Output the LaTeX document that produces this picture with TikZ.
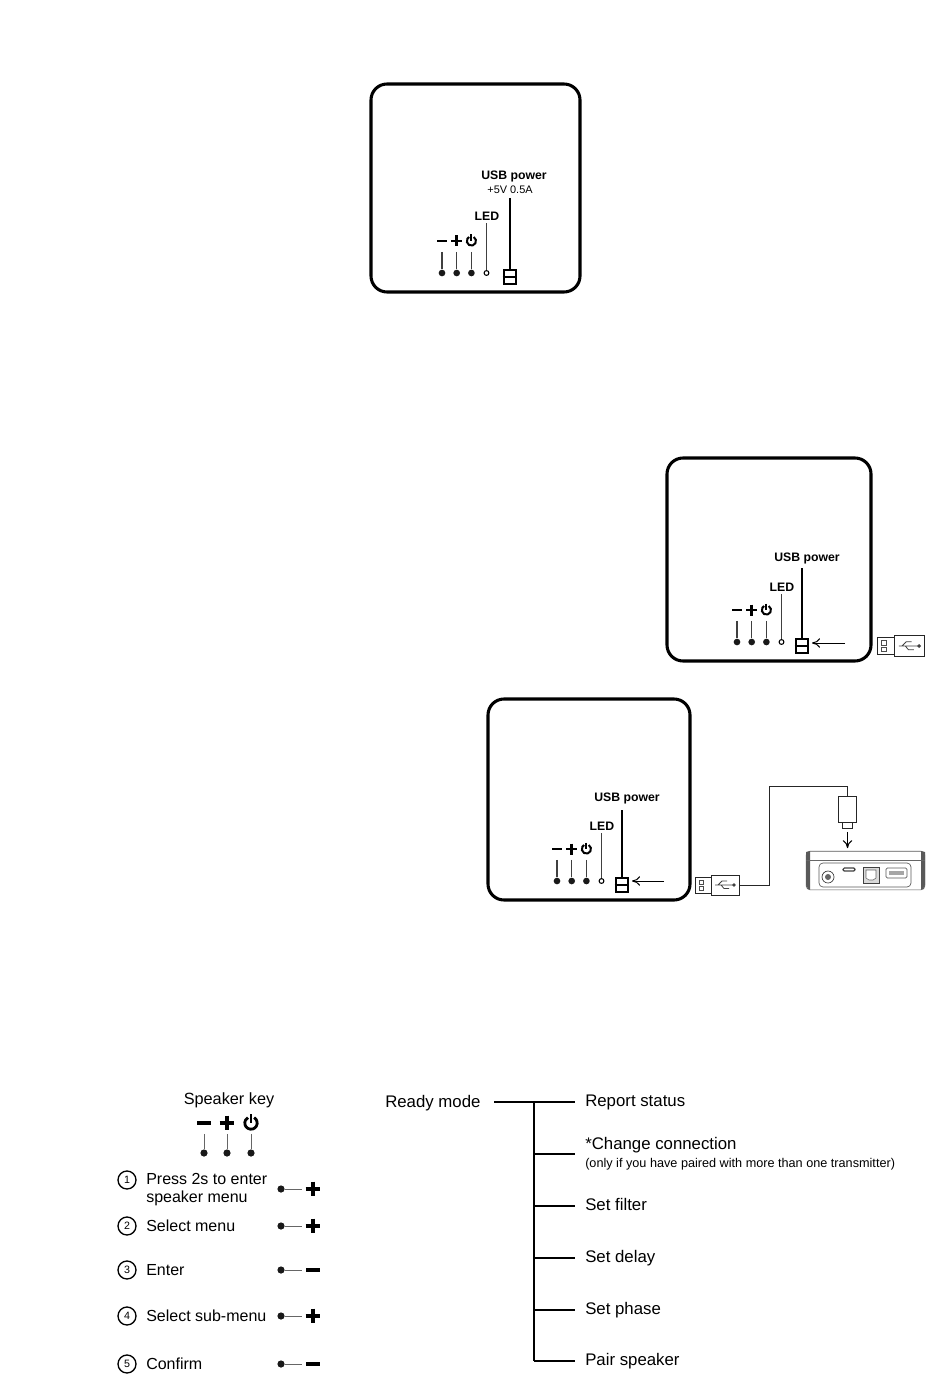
\documentclass[tikz,border=0pt]{standalone}
\usepackage{fontspec}
\setmainfont{Liberation Sans}
\usetikzlibrary{arrows.meta}
\newcommand{\fs}[1]{\fontsize{#1}{#1}\selectfont}
\tikzset{
  keystroke/.style={line width=2.2pt},
  powerstroke/.style={line width=1.5pt},
  keyspot/.style={minimum size=16pt, inner sep=0pt},
  panelbox/.style={line width=2.3pt, rounded corners=12pt},
  lead/.style={line width=.8pt, black!75},
  dot/.style={circle, fill=black!90, inner sep=0pt, minimum size=5pt},
  ledring/.style={circle, draw, line width=.8pt, inner sep=0pt, minimum size=3.6pt},
  usbport/.style={draw, line width=1.5pt, inner sep=0pt, minimum width=9.5pt, minimum height=10.5pt},
  pointer/.style={-{To[length=6pt,width=7pt]}, line width=.75pt},
  panellabel/.style={font=\bfseries\fs{9.2}, inner sep=2pt},
  steptext/.style={anchor=west, align=left, inner sep=0pt, font={\fs{12}\baselineskip=13.5pt}},
  stepnum/.style={circle, draw, line width=1pt, inner sep=0pt, minimum size=13.5pt, font=\fs{8}},
  menutext/.style={anchor=west, align=left, inner sep=7.5pt, font={\fs{12.6}\baselineskip=13.5pt}},
  treeline/.style={line width=.8pt},
  minuskey/.pic={\draw[keystroke] (-5,0) -- (5,0);},
  pluskey/.pic={\draw[keystroke] (-5.5,0) -- (5.5,0) (0,-5.5) -- (0,5.5);},
  powerkey/.pic={\draw[powerstroke] (-60:4.6) arc (-60:240:4.6); \draw[powerstroke] (0,-6.5) -- (0,0);},
  usbplug/.pic={
    \draw[line width=.7pt, black!85] (-44,-8) rectangle (-28,8);
    \draw[line width=.7pt, black!85] (-28,-10) rectangle (0,10);
    \draw[black!70, line width=.4pt] (-40,-5) rectangle (-36,-1) (-40,1) rectangle (-36,5);
    \draw[black!75, line width=.6pt] (-24,0) -- (-6,0) (-21,0) -- (-17,-4) -- (-12,-4) (-18,0) -- (-15,3.5) -- (-10,3.5);
    \fill[black!75] (-5,0) circle (1.8);
    \coordinate (-end) at (0,0);
  }
}
\begin{document}
\begin{tikzpicture}[x=.75pt, y=-.75pt]
\useasboundingbox (0,0) rectangle (950,1387);
% Panels
\foreach \pn/\bl/\bt/\br/\bb/\kx/\ky/\ux/\uy/\ut/\ulx/\uly/\lly in {
  a/371/84/580/292/442/273/510/277/198/514/176.5/216,
  b/667/458/871/661/737/642/802/646/568/807/558.5/587,
  c/488/699/690/900/557/881/622/885/810/627/798.5/826} {
  \draw[panelbox] (\bl,\bt) rectangle (\br,\bb);
  \foreach \i/\keyname in {0/minuskey,1/pluskey,2/powerkey} {
    \node[keyspot] (\pn key\i) at (\kx+\i*14.7,\ky-32) {};
    \pic at (\pn key\i) {\keyname};
    \node[dot] (\pn dot\i) at (\kx+\i*14.7,\ky) {};
    \draw[lead] (\pn key\i.south) -- (\pn dot\i);
  }
  \node[ledring] (\pn led) at (\kx+44.5,\ky) {};
  \node[panellabel] (\pn ledlabel) at (\kx+45,\lly) {LED};
  \draw[lead] (\pn ledlabel.south -| \pn led) -- (\pn led);
  \node[usbport] (\pn usb) at (\ux,\uy) {};
  \draw[line width=1.5pt] (\pn usb.west) -- (\pn usb.east);
  \node[panellabel] (\pn usblabel) at (\ulx,\uly) {USB power};
  \coordinate (\pn usbtop) at (\ux,\ut);
  \draw[line width=1.1pt] (\pn usbtop) -- (\pn usb.north);
}
\node[inner sep=0pt, font=\fs{8.2}] (avolts) at (510,190) {+5V 0.5A};
% Plug going in
\coordinate (barrow) at (845,643);
\draw[pointer, shorten >=2pt] (barrow) -- (busb.east |- barrow);
\coordinate (carrow) at (664,881);
\draw[pointer, shorten >=2pt] (carrow) -- (cusb.east |- carrow);
\pic[scale=1.07] (plugb) at (924.5,646) {usbplug};
\pic (plugc) at (739,885) {usbplug};
% Cable and receiver
\coordinate (bend) at (769,786);
\node[draw, line width=.7pt, black!85, minimum width=14pt, minimum height=19.5pt, inner sep=0pt] (conn) at (847.5,809) {};
\node[draw, line width=.7pt, black!85, minimum width=8pt, minimum height=5pt, inner sep=0pt] (conntip) at (847.5,825.5) {};
\draw[line width=.7pt, black!85] (plugc-end) -| (bend) -| (conn.north);
\node[draw, line width=.5pt, black!65, rounded corners=3pt, minimum width=89pt, minimum height=29pt, inner sep=0pt] (dev) at (865.5,870.5) {};
\draw[pointer, shorten <=2pt, shorten >=2pt] (conntip.south) -- (conntip.south |- dev.north);
\fill[black!65] (806,852) -- (810,851) -- (810,889) -- (808,889) -- (806,885) -- cycle;
\fill[black!65] (925,852) -- (921,851) -- (921,889) -- (923,889) -- (925,885) -- cycle;
\draw[line width=.4pt, black!60] (806,860) -- (925,860);
\draw[line width=.5pt, black!65, rounded corners=3pt] (819,863) rectangle (911,887);
\draw[line width=.5pt, black!80] (828,877) circle (6);
\fill[black!60] (828,877) circle (3);
\draw[line width=.9pt, black!75, rounded corners=1pt] (843,868) rectangle (855,871);
\draw[line width=.5pt, black!75, fill=black!15] (863,867) rectangle (879,883);
\draw[line width=.4pt, black!60, fill=white] (866,870) -- (876,870) -- (876,878) -- (873,880) -- (869,880) -- (866,878) -- cycle;
\draw[line width=.5pt, black!65, rounded corners=1pt] (886,868) rectangle (907,878);
\fill[black!35] (889,871) rectangle (904,875);
% Speaker key
\node[inner sep=0pt, font=\fs{12.2}] (spk) at (229,1100) {Speaker key};
\begin{scope}[keystroke/.style={line width=3.2pt}, powerstroke/.style={line width=2.1pt},
  dot/.style={circle, fill=black!90, inner sep=0pt, minimum size=5.4pt}]
\foreach \kx/\i/\keyname in {204/0/minuskey,227/1/pluskey,251/2/powerkey} {
  \node[keyspot] (spkkey\i) at (\kx,1123) {};
  \pic[scale=1.35] at (spkkey\i) {\keyname};
  \node[dot] (spkdot\i) at (\kx,1153) {};
  \draw[lead, black!60, line width=.5pt] (spkkey\i.south) -- (spkdot\i);
}
% Steps
\foreach \n/\cy/\ty/\dy/\keyname/\stp in {
  1/1180/1190/1189/pluskey/{Press 2s to enter\\speaker menu},
  2/1226/1226/1226/pluskey/{Select menu},
  3/1270/1270/1270/minuskey/{Enter},
  4/1316/1316/1316/pluskey/{Select sub-menu},
  5/1364/1364/1364/minuskey/{Confirm}} {
  \node[stepnum] (num\n) at (127,\cy) {\n};
  \node[steptext] (stp\n) at (146,\ty) {\stp};
  \node[dot] (stpdot\n) at (281,\dy) {};
  \node[keyspot] (stpkey\n) at (313,\dy) {};
  \pic[scale=1.35] at (stpkey\n) {\keyname};
  \draw[lead, black!60, line width=.5pt] (stpdot\n) -- (stpkey\n.west);
}
\end{scope}
% Menu tree
\node[inner sep=0pt, anchor=west, font=\fs{12.6}] (ready) at (385,1103) {Ready mode};
\coordinate (trunk) at (534,1102);
\coordinate (readyend) at (494,1102);
\foreach \m/\y/\mtext in {
  report/1102/{Report status},
  change/1154/{*Change connection\\{\fs{9.5}(only if you have paired with more than one transmitter)}},
  filter/1206/{Set filter\vphantom{p}},
  delay/1258/{Set delay},
  phase/1310/{Set phase},
  pair/1361/{Pair speaker}} {
  \node[menutext] (\m) at (575,\y) {\mtext};
  \draw[treeline] (trunk |- \m.west) -- (\m.west);
}
\draw[treeline] (readyend) -- (report.west);
\draw[treeline] (trunk) -- (trunk |- pair.west);
\end{tikzpicture}
\end{document}
